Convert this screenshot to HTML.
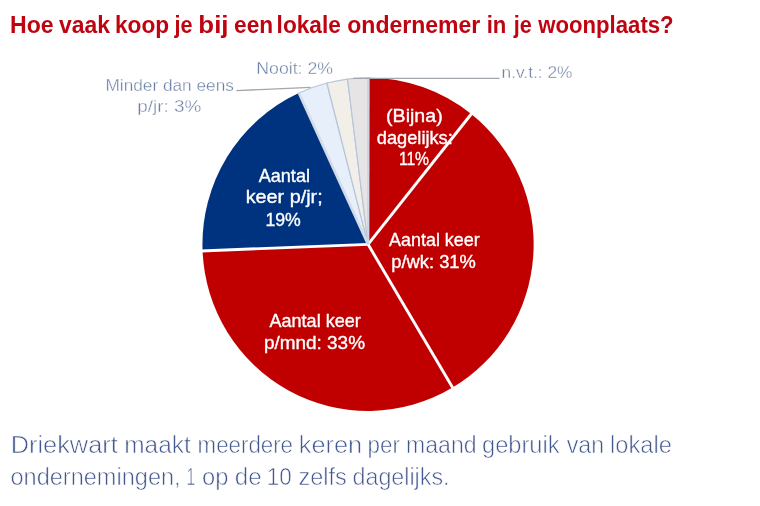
<!DOCTYPE html>
<html lang="nl"><head><meta charset="utf-8"><title>Hoe vaak koop je bij een lokale ondernemer</title>
<style>
html,body{margin:0;padding:0;background:#fff;}
body{width:760px;height:506px;overflow:hidden;position:relative;font-family:"Liberation Sans",sans-serif;}
svg{position:absolute;left:0;top:0;display:block}
text{font-family:"Liberation Sans",sans-serif;}
.title{font-weight:bold;font-size:23.5px;fill:#bf0411;}
.out{font-size:17px;fill:#6c7fa5;stroke:#ffffff;stroke-width:0.35px;paint-order:fill stroke;}
.in{font-size:17.9px;fill:#ffffff;stroke:#ffffff;stroke-width:0.35px;}
.foot{font-size:23.5px;fill:#43578f;stroke:#ffffff;stroke-width:0.6px;paint-order:fill stroke;}
</style></head><body>
<svg width="760" height="506" viewBox="0 0 760 506">
<rect width="760" height="506" fill="#ffffff"/>
<path d="M368.05,244.35 L298.85,92.99 A165.6,166.6 0 0 1 326.89,82.98 Z" fill="#e6effa" stroke="#b7c6da" stroke-width="1.2" stroke-linejoin="round"/>
<path d="M368.05,244.35 L326.89,82.98 A165.6,166.6 0 0 1 347.55,79.03 Z" fill="#f1efe8" stroke="#b7c6da" stroke-width="1.2" stroke-linejoin="round"/>
<path d="M368.05,244.35 L347.55,79.03 A165.6,166.6 0 0 1 368.05,77.75 Z" fill="#e6e4e5" stroke="#b7c6da" stroke-width="1.2" stroke-linejoin="round"/>
<path d="M368.05,244.35 L368.05,77.75 A165.6,166.6 0 0 1 471.25,114.06 Z" fill="#c00000"/>
<path d="M368.05,244.35 L471.25,114.06 A165.6,166.6 0 0 1 452.60,387.60 Z" fill="#c00000"/>
<path d="M368.05,244.35 L452.60,387.60 A165.6,166.6 0 0 1 202.58,250.89 Z" fill="#c00000"/>
<path d="M368.05,244.35 L202.58,250.89 A165.6,166.6 0 0 1 298.85,92.99 Z" fill="#00337f"/>
<line x1="368.05" y1="244.35" x2="472.28" y2="112.76" stroke="#fff" stroke-width="2.9"/>
<line x1="368.05" y1="244.35" x2="453.44" y2="389.03" stroke="#fff" stroke-width="2.9"/>
<line x1="368.05" y1="244.35" x2="200.92" y2="250.96" stroke="#fff" stroke-width="2.9"/>
<line x1="368.05" y1="244.35" x2="298.85" y2="92.99" stroke="#d2dce8" stroke-width="2.6"/>
<line x1="368.25" y1="244.35" x2="368.55" y2="77.75" stroke="#cdd7e4" stroke-width="2.2"/>
<line x1="236.3" y1="90.6" x2="310.5" y2="87.4" stroke="#a2a7ae" stroke-width="1.3"/>
<line x1="353" y1="78.3" x2="499.5" y2="78.3" stroke="#a2a7ae" stroke-width="1.3"/>
<text class="title" y="32.6"><tspan x="10.03" textLength="43.56" lengthAdjust="spacingAndGlyphs">Hoe</tspan> <tspan x="59.06" textLength="50.97" lengthAdjust="spacingAndGlyphs">vaak</tspan> <tspan x="115.01" textLength="54.15" lengthAdjust="spacingAndGlyphs">koop</tspan> <tspan x="174.46" textLength="18.03" lengthAdjust="spacingAndGlyphs">je</tspan> <tspan x="198.35" textLength="30.19" lengthAdjust="spacingAndGlyphs">bij</tspan> <tspan x="234.03" textLength="39.11" lengthAdjust="spacingAndGlyphs">een</tspan> <tspan x="276.61" textLength="64.23" lengthAdjust="spacingAndGlyphs">lokale</tspan> <tspan x="347.32" textLength="133.00" lengthAdjust="spacingAndGlyphs">ondernemer</tspan> <tspan x="486.65" textLength="19.65" lengthAdjust="spacingAndGlyphs">in</tspan> <tspan x="513.76" textLength="18.03" lengthAdjust="spacingAndGlyphs">je</tspan> <tspan x="538.30" textLength="135.30" lengthAdjust="spacingAndGlyphs">woonplaats?</tspan></text>
<text class="out" y="73.8"><tspan x="256.34" textLength="76.59" lengthAdjust="spacingAndGlyphs">Nooit: 2%</tspan></text>
<text class="out" y="90.7"><tspan x="105.48" textLength="128.37" lengthAdjust="spacingAndGlyphs">Minder dan eens</tspan></text>
<text class="out" y="112.4"><tspan x="137.39" textLength="63.92" lengthAdjust="spacingAndGlyphs">p/jr: 3%</tspan></text>
<text class="out" y="78.4"><tspan x="501.53" textLength="71.00" lengthAdjust="spacingAndGlyphs">n.v.t.: 2%</tspan></text>
<text class="in" y="122.4"><tspan x="386.11" textLength="56.54" lengthAdjust="spacingAndGlyphs">(Bijna)</tspan></text>
<text class="in" y="144.1"><tspan x="376.89" textLength="75.88" lengthAdjust="spacingAndGlyphs">dagelijks:</tspan></text>
<text class="in" y="165.2"><tspan x="398.91" textLength="30.11" lengthAdjust="spacingAndGlyphs">11%</tspan></text>
<text class="in" y="246.2"><tspan x="389.05" textLength="90.67" lengthAdjust="spacingAndGlyphs">Aantal keer</tspan></text>
<text class="in" y="267.8"><tspan x="391.28" textLength="84.59" lengthAdjust="spacingAndGlyphs">p/wk: 31%</tspan></text>
<text class="in" y="327"><tspan x="269.55" textLength="91.16" lengthAdjust="spacingAndGlyphs">Aantal keer</tspan></text>
<text class="in" y="348.8"><tspan x="263.94" textLength="101.07" lengthAdjust="spacingAndGlyphs">p/mnd: 33%</tspan></text>
<text class="in" y="182.3"><tspan x="258.65" textLength="51.34" lengthAdjust="spacingAndGlyphs">Aantal</tspan></text>
<text class="in" y="203.4"><tspan x="245.69" textLength="77.01" lengthAdjust="spacingAndGlyphs">keer p/jr;</tspan></text>
<text class="in" y="225.5"><tspan x="265.46" textLength="35.39" lengthAdjust="spacingAndGlyphs">19%</tspan></text>
<text class="foot" y="453"><tspan x="10.74" textLength="107.01" lengthAdjust="spacingAndGlyphs">Driekwart</tspan> <tspan x="124.24" textLength="66.52" lengthAdjust="spacingAndGlyphs">maakt</tspan> <tspan x="197.58" textLength="95.45" lengthAdjust="spacingAndGlyphs">meerdere</tspan> <tspan x="298.89" textLength="63.28" lengthAdjust="spacingAndGlyphs">keren</tspan> <tspan x="367.57" textLength="32.38" lengthAdjust="spacingAndGlyphs">per</tspan> <tspan x="406.03" textLength="70.55" lengthAdjust="spacingAndGlyphs">maand</tspan> <tspan x="481.99" textLength="77.59" lengthAdjust="spacingAndGlyphs">gebruik</tspan> <tspan x="566.75" textLength="37.36" lengthAdjust="spacingAndGlyphs">van</tspan> <tspan x="609.99" textLength="61.88" lengthAdjust="spacingAndGlyphs">lokale</tspan></text>
<text class="foot" y="485"><tspan x="10.50" textLength="170.11" lengthAdjust="spacingAndGlyphs">ondernemingen,</tspan> <tspan x="186.44" textLength="8.68" lengthAdjust="spacingAndGlyphs">1</tspan> <tspan x="201.99" textLength="26.41" lengthAdjust="spacingAndGlyphs">op</tspan> <tspan x="234.77" textLength="26.90" lengthAdjust="spacingAndGlyphs">de</tspan> <tspan x="266.82" textLength="25.03" lengthAdjust="spacingAndGlyphs">10</tspan> <tspan x="298.50" textLength="48.33" lengthAdjust="spacingAndGlyphs">zelfs</tspan> <tspan x="352.51" textLength="97.00" lengthAdjust="spacingAndGlyphs">dagelijks.</tspan></text>
</svg>
</body></html>
